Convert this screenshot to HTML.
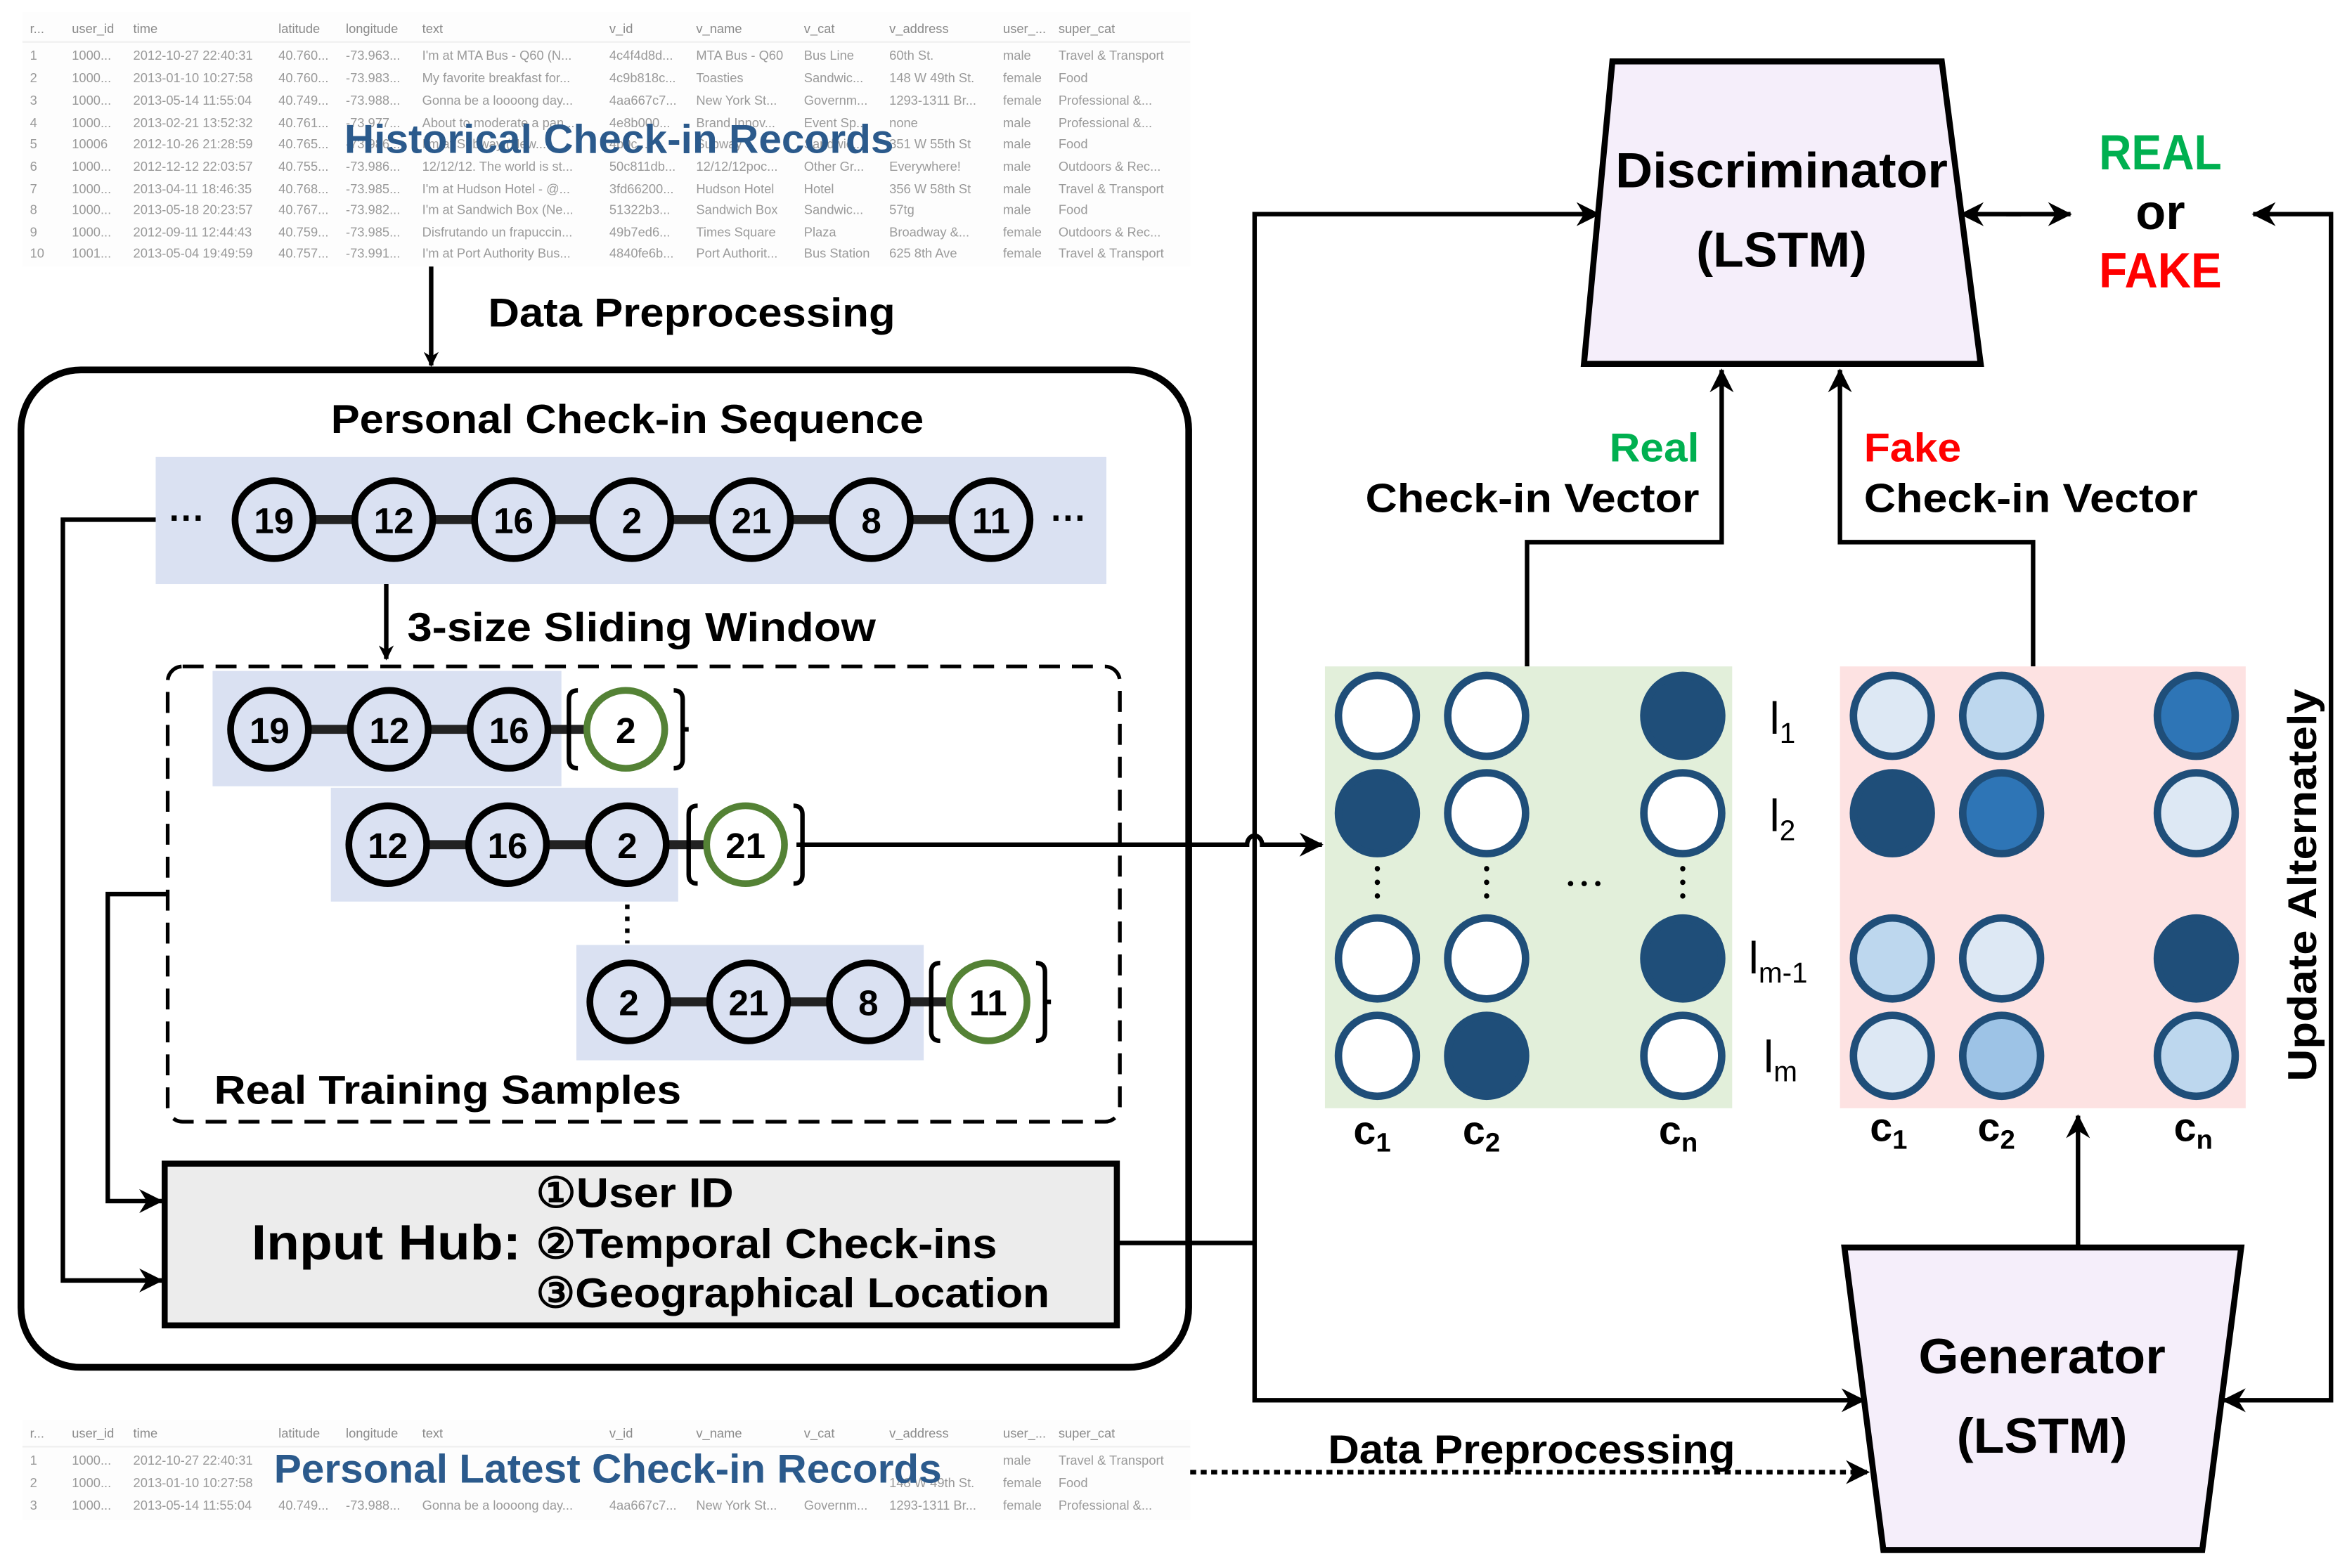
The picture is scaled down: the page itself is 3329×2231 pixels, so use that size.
<!DOCTYPE html>
<html><head><meta charset="utf-8"><style>
html,body{margin:0;padding:0;background:#fff;}
svg{display:block;}
text{font-family:"Liberation Sans",sans-serif;}
.t{font-size:8.6px;fill:#9a9a9a;}
.h{font-size:8.6px;fill:#8a8a8a;}
.b{font-weight:bold;}
</style></head><body>
<svg width="3329" height="2231" viewBox="0 0 1563 1047" preserveAspectRatio="none" xmlns="http://www.w3.org/2000/svg">
<defs>
<marker id="ar" markerWidth="10" markerHeight="10" refX="9" refY="5" orient="auto" markerUnits="userSpaceOnUse" viewBox="0 0 10 10"><path d="M0,0 L10,5 L0,10 L3,5 Z" fill="#000"/></marker>
<marker id="arB" markerWidth="16" markerHeight="16" refX="15" refY="8" orient="auto" markerUnits="userSpaceOnUse" viewBox="0 0 16 16"><path d="M0,0 L16,8 L0,16 L5,8 Z" fill="#000"/></marker>
</defs>
<rect width="1563" height="1047" fill="#fff"/>

<!-- top table -->
<g>
<rect x="15" y="8" width="780" height="170" fill="#fdfdfd"/>
<line x1="15" y1="28" x2="795" y2="28" stroke="#eee"/>
<g class="h">
<text x="20" y="22">r...</text><text x="48" y="22">user_id</text><text x="89" y="22">time</text><text x="186" y="22">latitude</text><text x="231" y="22">longitude</text><text x="282" y="22">text</text><text x="407" y="22">v_id</text><text x="465" y="22">v_name</text><text x="537" y="22">v_cat</text><text x="594" y="22">v_address</text><text x="670" y="22">user_...</text><text x="707" y="22">super_cat</text>
</g>
<g class="t">
<text x="20" y="40">1</text><text x="48" y="40">1000...</text><text x="89" y="40">2012-10-27 22:40:31</text><text x="186" y="40">40.760...</text><text x="231" y="40">-73.963...</text><text x="282" y="40">I'm at MTA Bus - Q60 (N...</text><text x="407" y="40">4c4f4d8d...</text><text x="465" y="40">MTA Bus - Q60</text><text x="537" y="40">Bus Line</text><text x="594" y="40">60th St.</text><text x="670" y="40">male</text><text x="707" y="40">Travel &amp; Transport</text>
<text x="20" y="55">2</text><text x="48" y="55">1000...</text><text x="89" y="55">2013-01-10 10:27:58</text><text x="186" y="55">40.760...</text><text x="231" y="55">-73.983...</text><text x="282" y="55">My favorite breakfast for...</text><text x="407" y="55">4c9b818c...</text><text x="465" y="55">Toasties</text><text x="537" y="55">Sandwic...</text><text x="594" y="55">148 W 49th St.</text><text x="670" y="55">female</text><text x="707" y="55">Food</text>
<text x="20" y="70">3</text><text x="48" y="70">1000...</text><text x="89" y="70">2013-05-14 11:55:04</text><text x="186" y="70">40.749...</text><text x="231" y="70">-73.988...</text><text x="282" y="70">Gonna be a loooong day...</text><text x="407" y="70">4aa667c7...</text><text x="465" y="70">New York St...</text><text x="537" y="70">Governm...</text><text x="594" y="70">1293-1311 Br...</text><text x="670" y="70">female</text><text x="707" y="70">Professional &amp;...</text>
<text x="20" y="85">4</text><text x="48" y="85">1000...</text><text x="89" y="85">2013-02-21 13:52:32</text><text x="186" y="85">40.761...</text><text x="231" y="85">-73.977...</text><text x="282" y="85">About to moderate a pan...</text><text x="407" y="85">4e8b000...</text><text x="465" y="85">Brand Innov...</text><text x="537" y="85">Event Sp...</text><text x="594" y="85">none</text><text x="670" y="85">male</text><text x="707" y="85">Professional &amp;...</text>
<text x="20" y="99">5</text><text x="48" y="99">10006</text><text x="89" y="99">2012-10-26 21:28:59</text><text x="186" y="99">40.765...</text><text x="231" y="99">-73.986...</text><text x="282" y="99">I'm at Subway (New...</text><text x="407" y="99">4b0c...</text><text x="465" y="99">Subway</text><text x="537" y="99">Sandwic...</text><text x="594" y="99">351 W 55th St</text><text x="670" y="99">male</text><text x="707" y="99">Food</text>
<text x="20" y="114">6</text><text x="48" y="114">1000...</text><text x="89" y="114">2012-12-12 22:03:57</text><text x="186" y="114">40.755...</text><text x="231" y="114">-73.986...</text><text x="282" y="114">12/12/12. The world is st...</text><text x="407" y="114">50c811db...</text><text x="465" y="114">12/12/12poc...</text><text x="537" y="114">Other Gr...</text><text x="594" y="114">Everywhere!</text><text x="670" y="114">male</text><text x="707" y="114">Outdoors &amp; Rec...</text>
<text x="20" y="129">7</text><text x="48" y="129">1000...</text><text x="89" y="129">2013-04-11 18:46:35</text><text x="186" y="129">40.768...</text><text x="231" y="129">-73.985...</text><text x="282" y="129">I'm at Hudson Hotel - @...</text><text x="407" y="129">3fd66200...</text><text x="465" y="129">Hudson Hotel</text><text x="537" y="129">Hotel</text><text x="594" y="129">356 W 58th St</text><text x="670" y="129">male</text><text x="707" y="129">Travel &amp; Transport</text>
<text x="20" y="143">8</text><text x="48" y="143">1000...</text><text x="89" y="143">2013-05-18 20:23:57</text><text x="186" y="143">40.767...</text><text x="231" y="143">-73.982...</text><text x="282" y="143">I'm at Sandwich Box (Ne...</text><text x="407" y="143">51322b3...</text><text x="465" y="143">Sandwich Box</text><text x="537" y="143">Sandwic...</text><text x="594" y="143">57tg</text><text x="670" y="143">male</text><text x="707" y="143">Food</text>
<text x="20" y="158">9</text><text x="48" y="158">1000...</text><text x="89" y="158">2012-09-11 12:44:43</text><text x="186" y="158">40.759...</text><text x="231" y="158">-73.985...</text><text x="282" y="158">Disfrutando un frapuccin...</text><text x="407" y="158">49b7ed6...</text><text x="465" y="158">Times Square</text><text x="537" y="158">Plaza</text><text x="594" y="158">Broadway &amp;...</text><text x="670" y="158">female</text><text x="707" y="158">Outdoors &amp; Rec...</text>
<text x="20" y="172">10</text><text x="48" y="172">1001...</text><text x="89" y="172">2013-05-04 19:49:59</text><text x="186" y="172">40.757...</text><text x="231" y="172">-73.991...</text><text x="282" y="172">I'm at Port Authority Bus...</text><text x="407" y="172">4840fe6b...</text><text x="465" y="172">Port Authorit...</text><text x="537" y="172">Bus Station</text><text x="594" y="172">625 8th Ave</text><text x="670" y="172">female</text><text x="707" y="172">Travel &amp; Transport</text>
</g>
</g>
<text x="230" y="102" class="b" font-size="27" fill="#2b5a8c" textLength="367" lengthAdjust="spacingAndGlyphs">Historical Check-in Records</text>

<line x1="288" y1="178" x2="288" y2="244" stroke="#000" stroke-width="3" marker-end="url(#ar)"/>
<text x="326" y="218" class="b" font-size="27" textLength="272" lengthAdjust="spacingAndGlyphs">Data Preprocessing</text>

<!-- big rounded box -->
<rect x="14" y="247" width="780" height="666" rx="40" fill="none" stroke="#000" stroke-width="4.5"/>
<text x="221" y="289" class="b" font-size="27" textLength="396" lengthAdjust="spacingAndGlyphs">Personal Check-in Sequence</text>

<rect x="104" y="305" width="635" height="85" fill="#dae1f2"/>
<line x1="183" y1="347" x2="662" y2="347" stroke="#222" stroke-width="6"/>
<g fill="#dae1f2" stroke="#000" stroke-width="4.5">
<circle cx="183" cy="347" r="26"/><circle cx="263" cy="347" r="26"/><circle cx="343" cy="347" r="26"/><circle cx="422" cy="347" r="26"/><circle cx="502" cy="347" r="26"/><circle cx="582" cy="347" r="26"/><circle cx="662" cy="347" r="26"/>
</g>
<g class="b" font-size="24" text-anchor="middle">
<text x="183" y="356">19</text><text x="263" y="356">12</text><text x="343" y="356">16</text><text x="422" y="356">2</text><text x="502" y="356">21</text><text x="582" y="356">8</text><text x="662" y="356">11</text>
</g>
<text x="113" y="354" class="b" font-size="24">···</text>
<text x="702" y="354" class="b" font-size="24">···</text>

<line x1="258" y1="390" x2="258" y2="440" stroke="#000" stroke-width="3" marker-end="url(#ar)"/>
<text x="272" y="428" class="b" font-size="27" textLength="313" lengthAdjust="spacingAndGlyphs">3-size Sliding Window</text>

<rect x="112" y="445" width="636" height="304" rx="10" fill="none" stroke="#000" stroke-width="2.5" stroke-dasharray="14,8"/>

<!-- row1 -->
<rect x="142" y="448" width="233" height="77" fill="#dae1f2"/>
<line x1="180" y1="487" x2="395" y2="487" stroke="#222" stroke-width="6"/>
<g fill="#dae1f2" stroke="#000" stroke-width="4.5"><circle cx="180" cy="487" r="26"/><circle cx="260" cy="487" r="26"/><circle cx="340" cy="487" r="26"/></g>
<circle cx="418" cy="487" r="26" fill="#fff" stroke="#548235" stroke-width="4.5"/>
<path d="M386,461 q-6,0 -6,6 v40 q0,6 6,6 M450,461 q6,0 6,6 v40 q0,6 -6,6 M456,487 h4" fill="none" stroke="#000" stroke-width="3"/>
<g class="b" font-size="24" text-anchor="middle"><text x="180" y="496">19</text><text x="260" y="496">12</text><text x="340" y="496">16</text><text x="418" y="496">2</text></g>

<!-- row2 -->
<rect x="221" y="526" width="232" height="76" fill="#dae1f2"/>
<line x1="259" y1="564" x2="474" y2="564" stroke="#222" stroke-width="6"/>
<g fill="#dae1f2" stroke="#000" stroke-width="4.5"><circle cx="259" cy="564" r="26"/><circle cx="339" cy="564" r="26"/><circle cx="419" cy="564" r="26"/></g>
<circle cx="498" cy="564" r="26" fill="#fff" stroke="#548235" stroke-width="4.5"/>
<path d="M466,538 q-6,0 -6,6 v40 q0,6 6,6 M530,538 q6,0 6,6 v40 q0,6 -6,6" fill="none" stroke="#000" stroke-width="3"/>
<g class="b" font-size="24" text-anchor="middle"><text x="259" y="573">12</text><text x="339" y="573">16</text><text x="419" y="573">2</text><text x="498" y="573">21</text></g>

<line x1="419" y1="604" x2="419" y2="630" stroke="#000" stroke-width="3" stroke-dasharray="3,5"/>

<!-- row3 -->
<rect x="385" y="631" width="232" height="77" fill="#dae1f2"/>
<line x1="420" y1="669" x2="636" y2="669" stroke="#222" stroke-width="6"/>
<g fill="#dae1f2" stroke="#000" stroke-width="4.5"><circle cx="420" cy="669" r="26"/><circle cx="500" cy="669" r="26"/><circle cx="580" cy="669" r="26"/></g>
<circle cx="660" cy="669" r="26" fill="#fff" stroke="#548235" stroke-width="4.5"/>
<path d="M628,643 q-6,0 -6,6 v40 q0,6 6,6 M692,643 q6,0 6,6 v40 q0,6 -6,6 M698,669 h4" fill="none" stroke="#000" stroke-width="3"/>
<g class="b" font-size="24" text-anchor="middle"><text x="420" y="678">2</text><text x="500" y="678">21</text><text x="580" y="678">8</text><text x="660" y="678">11</text></g>

<text x="143" y="737" class="b" font-size="27" textLength="312" lengthAdjust="spacingAndGlyphs">Real Training Samples</text>

<!-- left connectors -->
<polyline points="104,347 42,347 42,855 108,855" fill="none" stroke="#000" stroke-width="3" marker-end="url(#arB)"/>
<polyline points="112,597 72,597 72,802 108,802" fill="none" stroke="#000" stroke-width="3" marker-end="url(#arB)"/>

<!-- input hub -->
<rect x="110" y="777" width="636" height="108" fill="#ececec" stroke="#000" stroke-width="4"/>
<text x="168" y="841" class="b" font-size="33" textLength="180" lengthAdjust="spacingAndGlyphs">Input Hub:</text>
<g class="b" font-size="28">
<text x="358" y="806" textLength="132" lengthAdjust="spacingAndGlyphs">①User ID</text>
<text x="358" y="840" textLength="308" lengthAdjust="spacingAndGlyphs">②Temporal Check-ins</text>
<text x="358" y="873" textLength="343" lengthAdjust="spacingAndGlyphs">③Geographical Location</text>
</g>

<!-- hub to D and G -->
<polyline points="746,830 838,830" fill="none" stroke="#000" stroke-width="3"/>
<polyline points="1068,143 838,143 838,935 1243,935" fill="none" stroke="#000" stroke-width="3"/>
<line x1="1060" y1="143" x2="1068" y2="143" stroke="#000" stroke-width="3" marker-end="url(#arB)"/>
<line x1="1235" y1="935" x2="1245" y2="935" stroke="#000" stroke-width="3" marker-end="url(#arB)"/>

<!-- row2 to matrix with hop -->
<path d="M532,564 H833 a5,6 0 0 1 10,0 H883" fill="none" stroke="#000" stroke-width="3" marker-end="url(#arB)"/>

<!-- Discriminator -->
<polygon points="1077,41 1297,41 1323,243 1058,243" fill="#f5eefa" stroke="#000" stroke-width="4"/>
<text x="1190" y="125" class="b" font-size="33" text-anchor="middle" textLength="222" lengthAdjust="spacingAndGlyphs">Discriminator</text>
<text x="1190" y="178" class="b" font-size="33" text-anchor="middle" textLength="114" lengthAdjust="spacingAndGlyphs">(LSTM)</text>

<line x1="1340" y1="143" x2="1383" y2="143" stroke="#000" stroke-width="3" marker-end="url(#arB)"/>
<line x1="1350" y1="143" x2="1310" y2="143" stroke="#000" stroke-width="3" marker-end="url(#arB)"/>
<text x="1443" y="113" class="b" font-size="33" text-anchor="middle" fill="#00b050" textLength="82" lengthAdjust="spacingAndGlyphs">REAL</text>
<text x="1443" y="153" class="b" font-size="33" text-anchor="middle">or</text>
<text x="1443" y="192" class="b" font-size="33" text-anchor="middle" fill="#ff0000" textLength="82" lengthAdjust="spacingAndGlyphs">FAKE</text>

<!-- right loop -->
<polyline points="1510,143 1557,143 1557,935 1487,935" fill="none" stroke="#000" stroke-width="3"/>
<line x1="1515" y1="143" x2="1505" y2="143" stroke="#000" stroke-width="3" marker-end="url(#arB)"/>
<line x1="1495" y1="935" x2="1485" y2="935" stroke="#000" stroke-width="3" marker-end="url(#arB)"/>
<text transform="translate(1547,591) rotate(-90)" class="b" font-size="27" text-anchor="middle" textLength="262" lengthAdjust="spacingAndGlyphs">Update Alternately</text>

<!-- Real/Fake vector arrows -->
<polyline points="1020,445 1020,362 1150,362 1150,247" fill="none" stroke="#000" stroke-width="3" marker-end="url(#arB)"/>
<polyline points="1358,445 1358,362 1229,362 1229,247" fill="none" stroke="#000" stroke-width="3" marker-end="url(#arB)"/>
<text x="1135" y="308" class="b" font-size="27" text-anchor="end" fill="#00b050" textLength="60" lengthAdjust="spacingAndGlyphs">Real</text>
<text x="1135" y="342" class="b" font-size="27" text-anchor="end" textLength="223" lengthAdjust="spacingAndGlyphs">Check-in Vector</text>
<text x="1245" y="308" class="b" font-size="27" fill="#ff0000" textLength="65" lengthAdjust="spacingAndGlyphs">Fake</text>
<text x="1245" y="342" class="b" font-size="27" textLength="223" lengthAdjust="spacingAndGlyphs">Check-in Vector</text>

<!-- green matrix -->
<rect x="885" y="445" width="272" height="295" fill="#e2efda"/>
<g stroke="#1f4e79" stroke-width="5">
<ellipse cx="920" cy="478" rx="26" ry="27" fill="#fff"/><ellipse cx="993" cy="478" rx="26" ry="27" fill="#fff"/><ellipse cx="1124" cy="478" rx="26" ry="27" fill="#1f4e79"/>
<ellipse cx="920" cy="543" rx="26" ry="27" fill="#1f4e79"/><ellipse cx="993" cy="543" rx="26" ry="27" fill="#fff"/><ellipse cx="1124" cy="543" rx="26" ry="27" fill="#fff"/>
<ellipse cx="920" cy="640" rx="26" ry="27" fill="#fff"/><ellipse cx="993" cy="640" rx="26" ry="27" fill="#fff"/><ellipse cx="1124" cy="640" rx="26" ry="27" fill="#1f4e79"/>
<ellipse cx="920" cy="705" rx="26" ry="27" fill="#fff"/><ellipse cx="993" cy="705" rx="26" ry="27" fill="#1f4e79"/><ellipse cx="1124" cy="705" rx="26" ry="27" fill="#fff"/>
</g>
<g stroke="#000" stroke-width="3.5" stroke-linecap="round" stroke-dasharray="0.1,9">
<line x1="920" y1="580" x2="920" y2="604"/><line x1="993" y1="580" x2="993" y2="604"/><line x1="1124" y1="580" x2="1124" y2="604"/>
<line x1="1264" y1="580" x2="1264" y2="604"/><line x1="1337" y1="580" x2="1337" y2="604"/><line x1="1467" y1="580" x2="1467" y2="604"/>
<line x1="1049" y1="590" x2="1070" y2="590"/><line x1="1391" y1="590" x2="1412" y2="590"/>
</g>

<!-- pink matrix -->
<rect x="1229" y="445" width="271" height="295" fill="#fde2e2"/>
<g stroke="#1f4e79" stroke-width="5">
<ellipse cx="1264" cy="478" rx="26" ry="27" fill="#dde8f4"/><ellipse cx="1337" cy="478" rx="26" ry="27" fill="#bdd7ee"/><ellipse cx="1467" cy="478" rx="26" ry="27" fill="#2e75b6"/>
<ellipse cx="1264" cy="543" rx="26" ry="27" fill="#1f4e79"/><ellipse cx="1337" cy="543" rx="26" ry="27" fill="#2e75b6"/><ellipse cx="1467" cy="543" rx="26" ry="27" fill="#dde8f4"/>
<ellipse cx="1264" cy="640" rx="26" ry="27" fill="#bdd7ee"/><ellipse cx="1337" cy="640" rx="26" ry="27" fill="#dde8f4"/><ellipse cx="1467" cy="640" rx="26" ry="27" fill="#1f4e79"/>
<ellipse cx="1264" cy="705" rx="26" ry="27" fill="#dde8f4"/><ellipse cx="1337" cy="705" rx="26" ry="27" fill="#9dc3e6"/><ellipse cx="1467" cy="705" rx="26" ry="27" fill="#bdd7ee"/>
</g>

<!-- l labels -->
<g font-size="30">
<text x="1182" y="490">l<tspan font-size="19" dy="6">1</tspan></text>
<text x="1182" y="555">l<tspan font-size="19" dy="6">2</tspan></text>
<text x="1168" y="650">l<tspan font-size="19" dy="6">m-1</tspan></text>
<text x="1178" y="716">l<tspan font-size="19" dy="6">m</tspan></text>
</g>
<g class="b" font-size="27">
<text x="904" y="764">c<tspan font-size="18" dy="5">1</tspan></text>
<text x="977" y="764">c<tspan font-size="18" dy="5">2</tspan></text>
<text x="1108" y="764">c<tspan font-size="18" dy="5">n</tspan></text>
<text x="1249" y="762">c<tspan font-size="18" dy="5">1</tspan></text>
<text x="1321" y="762">c<tspan font-size="18" dy="5">2</tspan></text>
<text x="1452" y="762">c<tspan font-size="18" dy="5">n</tspan></text>
</g>

<line x1="1388" y1="832" x2="1388" y2="745" stroke="#000" stroke-width="3" marker-end="url(#arB)"/>

<!-- Generator -->
<polygon points="1232,833 1497,833 1471,1035 1258,1035" fill="#f5eefa" stroke="#000" stroke-width="4"/>
<text x="1364" y="917" class="b" font-size="33" text-anchor="middle" textLength="165" lengthAdjust="spacingAndGlyphs">Generator</text>
<text x="1364" y="970" class="b" font-size="33" text-anchor="middle" textLength="114" lengthAdjust="spacingAndGlyphs">(LSTM)</text>

<!-- bottom table -->
<rect x="15" y="948" width="780" height="67" fill="#fdfdfd"/>
<line x1="15" y1="966" x2="795" y2="966" stroke="#eee"/>
<g class="h">
<text x="20" y="960">r...</text><text x="48" y="960">user_id</text><text x="89" y="960">time</text><text x="186" y="960">latitude</text><text x="231" y="960">longitude</text><text x="282" y="960">text</text><text x="407" y="960">v_id</text><text x="465" y="960">v_name</text><text x="537" y="960">v_cat</text><text x="594" y="960">v_address</text><text x="670" y="960">user_...</text><text x="707" y="960">super_cat</text>
</g>
<g class="t">
<text x="20" y="978">1</text><text x="48" y="978">1000...</text><text x="89" y="978">2012-10-27 22:40:31</text><text x="670" y="978">male</text><text x="707" y="978">Travel &amp; Transport</text>
<text x="20" y="993">2</text><text x="48" y="993">1000...</text><text x="89" y="993">2013-01-10 10:27:58</text><text x="594" y="993">148 W 49th St.</text><text x="670" y="993">female</text><text x="707" y="993">Food</text>
<text x="20" y="1008">3</text><text x="48" y="1008">1000...</text><text x="89" y="1008">2013-05-14 11:55:04</text><text x="186" y="1008">40.749...</text><text x="231" y="1008">-73.988...</text><text x="282" y="1008">Gonna be a loooong day...</text><text x="407" y="1008">4aa667c7...</text><text x="465" y="1008">New York St...</text><text x="537" y="1008">Governm...</text><text x="594" y="1008">1293-1311 Br...</text><text x="670" y="1008">female</text><text x="707" y="1008">Professional &amp;...</text>
</g>
<text x="183" y="990" class="b" font-size="27" fill="#2b5a8c" textLength="446" lengthAdjust="spacingAndGlyphs">Personal Latest Check-in Records</text>

<line x1="795" y1="983" x2="1248" y2="983" stroke="#000" stroke-width="3" stroke-dasharray="4,3" marker-end="url(#arB)"/>
<text x="887" y="977" class="b" font-size="27" textLength="272" lengthAdjust="spacingAndGlyphs">Data Preprocessing</text>
</svg>
</body></html>
